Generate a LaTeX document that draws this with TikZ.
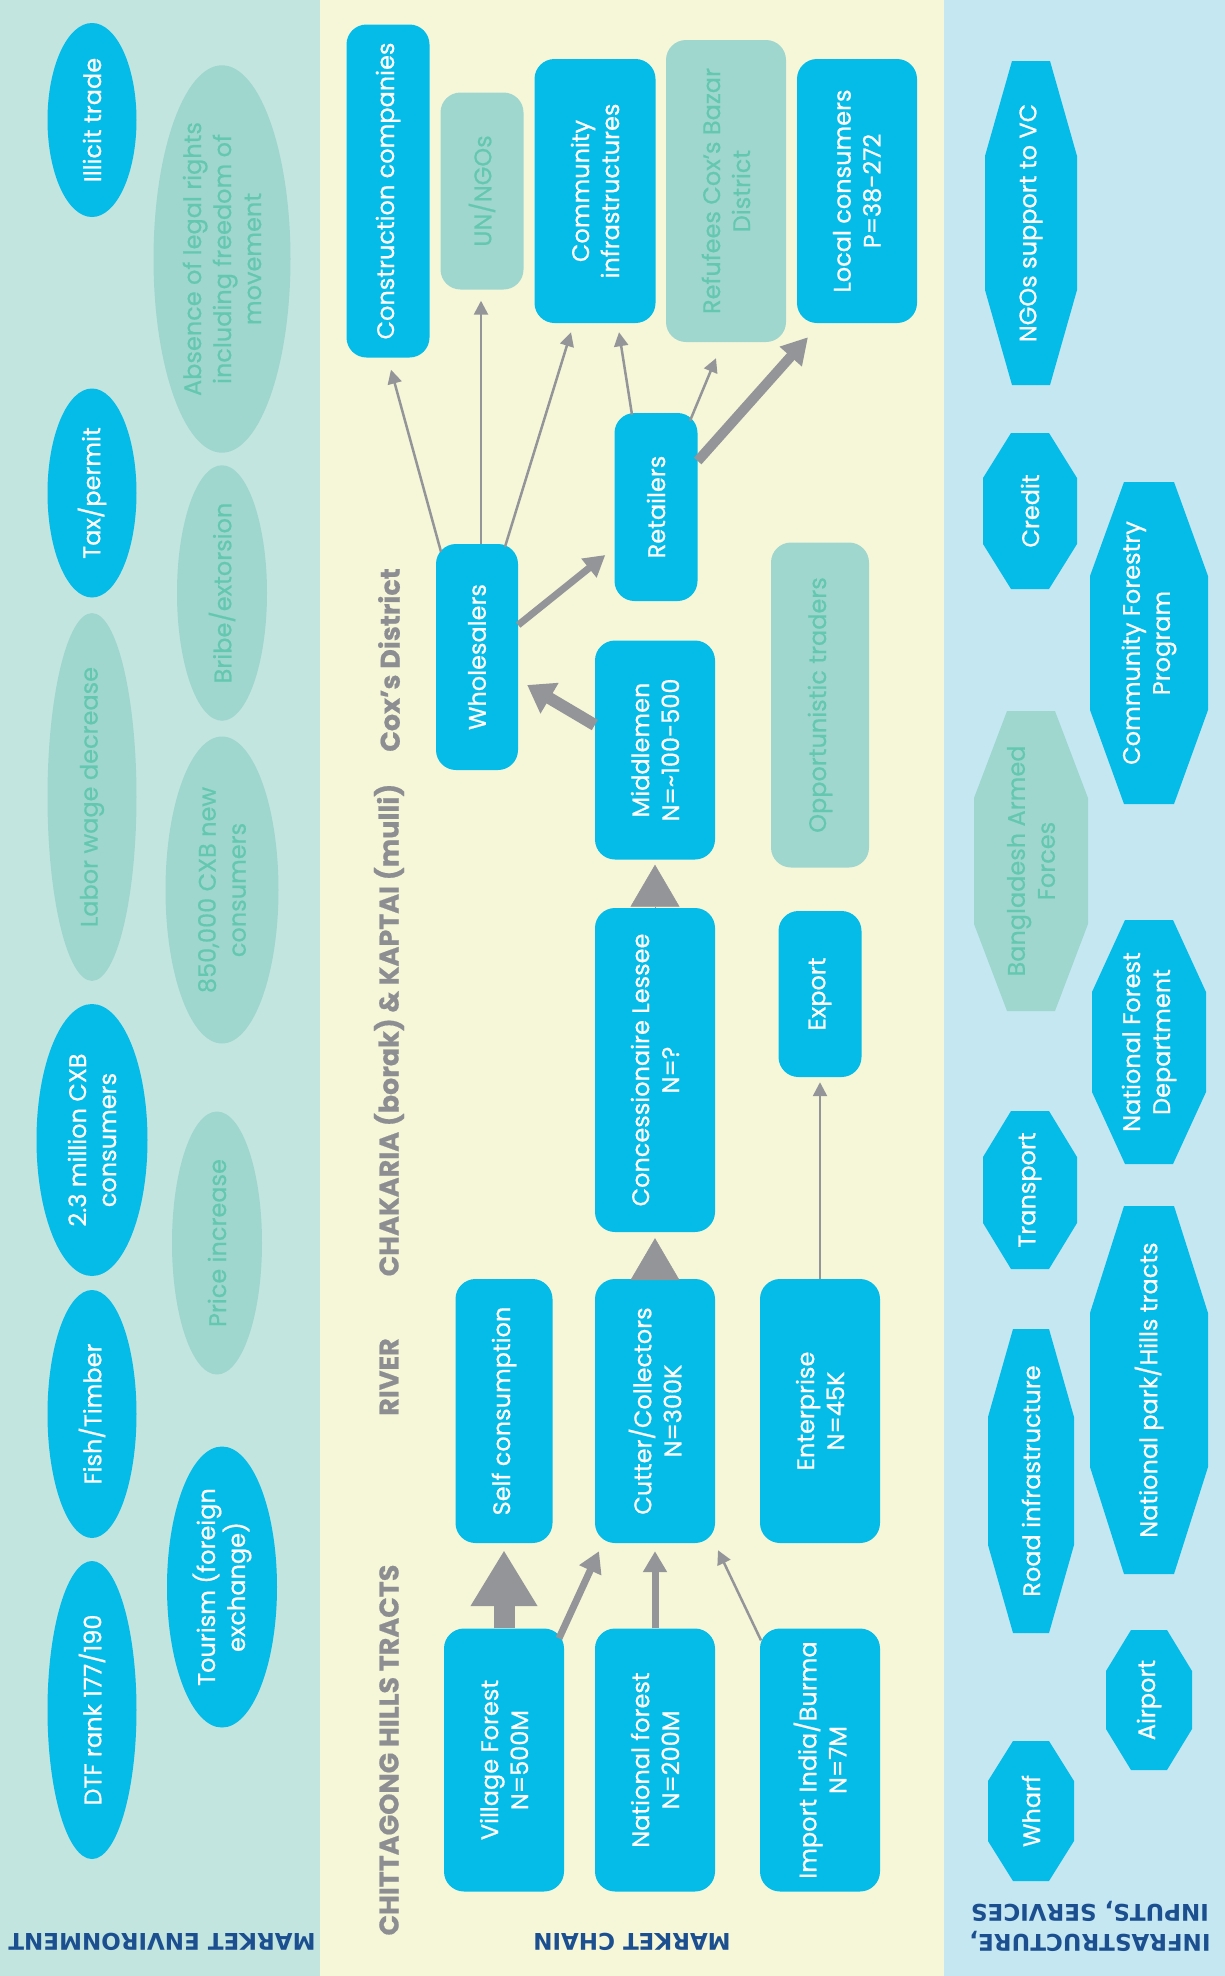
\documentclass[tikz,border=0pt]{standalone}
\usepackage{fontspec}
\setmainfont{Poppins}[FakeBold=0.6]
\newfontfamily\labelfamily{DejaVu Sans}
\usetikzlibrary{shapes.geometric,arrows.meta,calc}

\definecolor{cblue}{HTML}{05BCE8}
\definecolor{cgray}{HTML}{9FD7CF}
\definecolor{cgtext}{HTML}{64C8B1}
\definecolor{bgleft}{HTML}{C2E5DF}
\definecolor{bgmid}{HTML}{F6F7D9}
\definecolor{bgright}{HTML}{C5E7F2}
\definecolor{carrow}{HTML}{939598}
\definecolor{chead}{HTML}{8C8E91}
\definecolor{clabel}{HTML}{1C4F8F}

\newcommand{\bodyfont}{\fontsize{24}{30}\selectfont}
\newcommand{\headfont}{\fontsize{27}{32}\selectfont\bfseries}
\newcommand{\labelfont}{\labelfamily\bfseries\fontsize{23}{30}\selectfont}

% octagon: kind, name, cx, cy, half width, half height, chamfer x, chamfer y, text
\newcommand{\octa}[9]{%
  \fill[#1oct] ({#3-#5+#7},{#4-#6}) -- ({#3+#5-#7},{#4-#6}) -- ({#3+#5},{#4-#6+#8})
    -- ({#3+#5},{#4+#6-#8}) -- ({#3+#5-#7},{#4+#6}) -- ({#3-#5+#7},{#4+#6})
    -- ({#3-#5},{#4+#6-#8}) -- ({#3-#5},{#4-#6+#8}) -- cycle;
  \node[#1octtext] (#2) at (#3,#4) {#9};}

\begin{document}
\begin{tikzpicture}[
    x=1pt, y=-1pt,
    sz/.style 2 args={minimum width=#1pt, minimum height=#2pt},
    box/.style={rectangle, rounded corners=20pt, rotate=90, inner sep=0pt, align=center, font=\bodyfont},
    bluebox/.style={box, fill=cblue, text=white},
    graybox/.style={box, fill=cgray, text=cgtext},
    env/.style={ellipse, rotate=90, inner sep=0pt, align=center, font=\bodyfont},
    blueenv/.style={env, fill=cblue, text=white},
    grayenv/.style={env, fill=cgray, text=cgtext},
    blueoct/.style={fill=cblue},
    grayoct/.style={fill=cgray},
    blueocttext/.style={rotate=90, align=center, inner sep=0pt, text=white, font=\bodyfont},
    grayocttext/.style={rotate=90, align=center, inner sep=0pt, text=cgtext, font=\bodyfont},
    head/.style={rotate=90, text=chead, font=\headfont, inner sep=0pt},
    lbl/.style={rotate=180, text=clabel, font=\labelfont, inner sep=0pt, align=center},
    thinarr/.style={draw=carrow, line width=2.5pt, -{Triangle[length=14pt,width=14pt]}, color=carrow},
    medarr/.style={draw=carrow, line width=7pt, -{Triangle[length=21pt,width=23pt]}, color=carrow},
    widearr/.style={draw=carrow, line width=10pt, -{Triangle[length=26pt,width=28pt]}, color=carrow},
    bigarr/.style={draw=carrow, line width=12pt, -{Triangle[length=26pt,width=34pt]}, color=carrow},
    hugearr/.style={draw=carrow, line width=21pt, -{Triangle[length=56pt,width=63pt]}, color=carrow},
    triarr/.style={draw=carrow, line width=0.5pt, -{Triangle[length=42pt,width=49pt]}, color=carrow}
]
\useasboundingbox (0,0) rectangle (1225,1976);

% Panels
\fill[bgleft] (0,0) rectangle (320,1976);
\fill[bgmid] (320,0) rectangle (944,1976);
\fill[bgright] (944,0) rectangle (1225,1976);

% Market environment
\node[blueenv, sz={194}{89}] (illi) at (92,120) {Illicit trade};
\node[grayenv, sz={358}{137}] (abse) at (222,259) {Absence of legal rights\\including freedom of\\movement};
\node[blueenv, sz={209}{89}] (taxp) at (92,493) {Tax/permit};
\node[grayenv, sz={252}{90}] (brib) at (222,593) {Bribe/extorsion};
\node[grayenv, sz={342}{89}] (labo) at (92,797) {Labor wage decrease};
\node[grayenv, sz={307}{113}] (newc) at (222,890) {850,000 CXB new\\consumers};
\node[blueenv, sz={272}{111}] (mcxb) at (92,1140) {2.3 million CXB\\consumers};
\node[grayenv, sz={263}{90}] (pric) at (217,1243) {Price increase};
\node[blueenv, sz={248}{89}] (fish) at (92,1414) {Fish/Timber};
\node[blueenv, sz={281}{110}] (tour) at (222,1587) {Tourism (foreign\\exchange)};
\node[blueenv, sz={298}{89}] (dtfr) at (92,1710) {DTF rank 177/190};

% Column headers
\node[head] (hcht) at (389,1750) {CHITTAGONG HILLS TRACTS};
\node[head] (hriv) at (389,1377) {RIVER};
\node[head] (hcha) at (389,1030) {CHAKARIA (borak) \& KAPTAI (mulli)};
\node[head] (hcox) at (389,660) {Cox’s District};

% Market chain
\node[bluebox, sz={333}{83}] (cons) at (388,191) {Construction companies};
\node[graybox, sz={197}{83}] (ungo) at (482,191) {UN/NGOs};
\node[bluebox, sz={264}{121}] (comm) at (595,191) {Community\\infrastructures};
\node[graybox, sz={302}{120}] (refu) at (726,191) {Refufees Cox’s Bazar\\District};
\node[bluebox, sz={264}{120}] (locc) at (857,191) {Local consumers\\P=38-272};
\node[bluebox, sz={226}{82}] (whol) at (477,657) {Wholesalers};
\node[bluebox, sz={188}{83}] (reta) at (656,507) {Retailers};
\node[bluebox, sz={219}{120}] (midm) at (655,750) {Middlemen\\N=\char`~100-500};
\node[graybox, sz={325}{98}] (oppo) at (820,705) {Opportunistic traders};
\node[bluebox, sz={324}{120}] (conc) at (655,1070) {Concessionaire Lessee\\N=?};
\node[bluebox, sz={166}{83}] (expo) at (820,994) {Export};
\node[bluebox, sz={264}{97}] (self) at (504,1411) {Self consumption};
\node[bluebox, sz={264}{120}] (cutt) at (655,1411) {Cutter/Collectors\\N=300K};
\node[bluebox, sz={264}{120}] (entr) at (820,1411) {Enterprise\\N=45K};
\node[bluebox, sz={263}{120}] (vill) at (504,1760) {Village Forest\\N=500M};
\node[bluebox, sz={263}{120}] (natf) at (655,1760) {National forest\\N=200M};
\node[bluebox, sz={263}{120}] (impo) at (820,1760) {Import India/Burma\\N=7M};

% Flows
\draw[hugearr, shorten >=7pt] (vill.east) -- (self.west);
\draw[medarr] ([xshift=55pt,yshift=-10pt]vill.east) -- ([xshift=-56pt,yshift=-8pt]cutt.west);
\draw[medarr, shorten >=8pt] (natf.east) -- (cutt.west);
\draw[thinarr] ([xshift=-59pt,yshift=-12pt]impo.east) -- ([xshift=63pt,yshift=-7pt]cutt.west);
\draw[triarr, shorten >=6pt] (cutt.east) -- (conc.west);
\draw[triarr, shorten >=5pt] (conc.east) -- (midm.west);
\draw[thinarr, shorten >=5pt] (entr.east) -- (expo.west);
\draw[bigarr] ([yshift=25pt]midm.north) -- ([xshift=9pt,yshift=-28pt]whol.south);
\draw[medarr] ([yshift=32pt]whol.south) -- ([xshift=-9pt,yshift=-48pt]reta.north);
\draw[thinarr] ([xshift=-36pt,yshift=-8pt]whol.east) -- ([xshift=3pt,yshift=-12pt]cons.west);
\draw[thinarr] ([xshift=4pt]whol.east) -- ([xshift=-1pt,yshift=-11pt]ungo.west);
\draw[thinarr] ([xshift=28pt,yshift=-3pt]whol.east) -- ([xshift=-24pt,yshift=-9pt]comm.west);
\draw[thinarr] ([xshift=-24pt,yshift=-2pt]reta.east) -- ([xshift=24pt,yshift=-9pt]comm.west);
\draw[thinarr] ([xshift=34pt,yshift=-8pt]reta.east) -- ([xshift=-10pt,yshift=-16pt]refu.west);
\draw[widearr] ([yshift=46pt]reta.south) -- ([xshift=-49pt,yshift=-14pt]locc.west);

% Infrastructure, inputs, services
\octa{blue}{ngos}{1031}{223}{46}{162}{27}{95}{NGOs support to VC}
\octa{blue}{cred}{1030}{511}{47}{78}{28}{45}{Credit}
\octa{blue}{cfor}{1149}{643}{59}{161}{34}{94}{Community Forestry\\Program}
\octa{gray}{bang}{1031}{861}{57}{150}{33}{87}{Bangladesh Armed\\Forces}
\octa{blue}{nfde}{1149}{1042}{57}{122}{33}{72}{National Forest\\Department}
\octa{blue}{tran}{1030}{1190}{47}{79}{28}{46}{Transport}
\octa{blue}{npar}{1149}{1390}{59}{184}{34}{107}{National park/Hills tracts}
\octa{blue}{road}{1031}{1481}{43}{152}{25}{88}{Road infrastructure}
\octa{blue}{airp}{1149}{1700}{43}{70}{25}{41}{Airport}
\octa{blue}{whar}{1031}{1811}{43}{70}{25}{40}{Wharf}

% Panel titles
\node[lbl] (tenv) at (162,1942) {MARKET ENVIRONMENT};
\node[lbl] (tchain) at (632,1942) {MARKET CHAIN};
\node[lbl] (tinfra) at (1090,1926) {INFRASTRUCTURE,\\INPUTS, SERVICES};

\end{tikzpicture}
\end{document}
